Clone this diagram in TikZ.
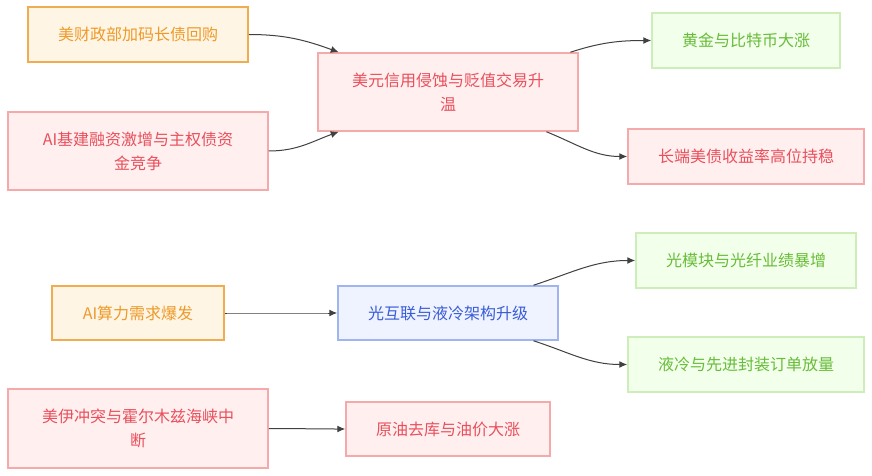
\documentclass[tikz,border=0pt]{standalone}
\usepackage{fontspec}
\setmainfont{Noto Sans CJK SC}
\usepackage{tikz}
\usetikzlibrary{arrows.meta}
\definecolor{orfill}{HTML}{FFF5E4}
\definecolor{ordraw}{HTML}{F0AC50}
\definecolor{ortext}{HTML}{EE9A2A}
\definecolor{pkfill}{HTML}{FFEFEF}
\definecolor{pkdraw}{HTML}{F4AAAA}
\definecolor{pktext}{HTML}{E8505C}
\definecolor{grfill}{HTML}{F2FFEA}
\definecolor{grdraw}{HTML}{CDEEB8}
\definecolor{grtext}{HTML}{68BC3A}
\definecolor{blfill}{HTML}{EEF3FF}
\definecolor{bldraw}{HTML}{A0B4F0}
\definecolor{bltext}{HTML}{3A5CD6}
\newcommand{\flow}[4]{\draw[flow] (#1) to[out=#3,in=#4] (#2);}

\begin{document}
\begin{tikzpicture}[x=1pt,y=-1pt,
  box/.style={rectangle,inner sep=0pt,line width=1.5pt,align=center,
    font=\fontsize{16}{24}\selectfont},
  orangebox/.style={box,fill=orfill,draw=ordraw,text=ortext},
  pinkbox/.style={box,fill=pkfill,draw=pkdraw,text=pktext},
  greenbox/.style={box,fill=grfill,draw=grdraw,text=grtext},
  bluebox/.style={box,fill=blfill,draw=bldraw,text=bltext},
  flow/.style={line width=1pt,draw=black!75,-{Latex[length=8pt,width=7pt]}}]
			\fill[white] (0,0) rectangle (872,476);
			\useasboundingbox (0,0) rectangle (872,476);
			
			\node[orangebox,minimum width=220pt,minimum height=55pt](buyback) at (138,34.5) {美财政部加码长债回购};
			\node[pinkbox,minimum width=260pt,minimum height=78pt](aiinfra) at (138,151) {AI基建融资激增与主权债资\\金竞争};
			\node[pinkbox,minimum width=260pt,minimum height=78pt](dollar) at (448,92) {美元信用侵蚀与贬值交易升\\温};
			\node[greenbox,minimum width=188pt,minimum height=55pt](gold) at (746,40.5) {黄金与比特币大涨};
			\node[pinkbox,minimum width=236pt,minimum height=55pt](yield) at (746,156.5) {长端美债收益率高位持稳};
			
			\node[orangebox,minimum width=172pt,minimum height=54pt](aicomp) at (138,313) {AI算力需求爆发};
			\node[bluebox,minimum width=220pt,minimum height=54pt](optic) at (448,313) {光互联与液冷架构升级};
			\node[greenbox,minimum width=220pt,minimum height=55pt](module) at (746,260.5) {光模块与光纤业绩暴增};
			\node[greenbox,minimum width=236pt,minimum height=55pt](cooling) at (746,364.5) {液冷与先进封装订单放量};
			
			\node[pinkbox,minimum width=260pt,minimum height=79pt](iran) at (138,428.5) {美伊冲突与霍尔木兹海峡中\\断};
			\node[pinkbox,minimum width=204pt,minimum height=54pt](oil) at (448,429) {原油去库与油价大涨};
			
			\flow{buyback.east}{dollar.160}{0}{160}
			\flow{aiinfra.east}{dollar.200}{0}{200}
			\flow{dollar.18}{gold.west}{18}{180}
			\flow{dollar.338}{yield.west}{-22}{180}
			\flow{aicomp.east}{optic.west}{0}{180}
			\flow{optic.18}{module.west}{18}{180}
			\flow{optic.342}{cooling.west}{-18}{180}
			\flow{iran.east}{oil.west}{0}{180}
		\end{tikzpicture}
\end{document}
